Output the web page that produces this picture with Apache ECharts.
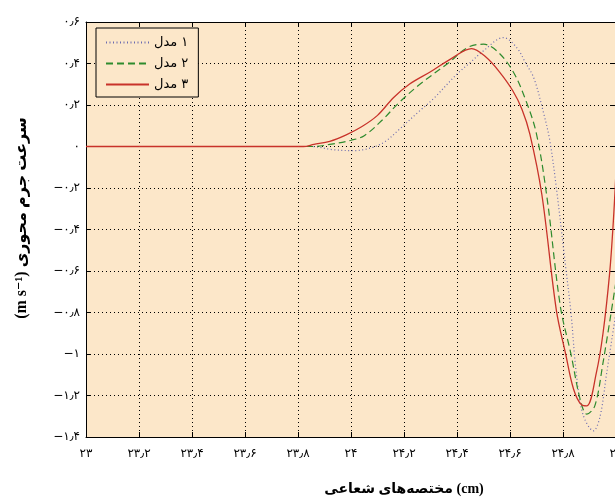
<!DOCTYPE html>
<html>
<head>
<meta charset="utf-8">
<script src="https://cdn.jsdelivr.net/npm/echarts@6/dist/echarts.min.js"></script>
<style>
html,body{margin:0;padding:0;background:#fff;}
#chart{width:615px;height:499px;}
</style>
</head>
<body>
<div id="chart"></div>
<script>
// Tick labels
const xTickValues = [23, 23.2, 23.4, 23.6, 23.8, 24, 24.2, 24.4, 24.6, 24.8, 25];
const xTickLabels = ['۲۳', '۲۳٫۲', '۲۳٫۴', '۲۳٫۶', '۲۳٫۸', '۲۴', '۲۴٫۲', '۲۴٫۴', '۲۴٫۶', '۲۴٫۸', '۲۵'];
const yTickValues = [-1.4, -1.2, -1, -0.8, -0.6, -0.4, -0.2, 0, 0.2, 0.4, 0.6];
const yTickLabels = ['−۱٫۴', '−۱٫۲', '−۱', '−۰٫۸', '−۰٫۶', '−۰٫۴', '−۰٫۲', '۰', '۰٫۲', '۰٫۴', '۰٫۶'];

// Series names
const seriesNames = ['مدل\u200E ۱', 'مدل\u200E ۲', 'مدل\u200E ۳'];

// Model 1 (dotted)
const model1X = [23, 23.5, 23.85, 23.93, 24.01, 24.08, 24.13, 24.18, 24.26, 24.31, 24.40, 24.45, 24.50, 24.575, 24.625, 24.66, 24.69, 24.725, 24.75, 24.775, 24.81, 24.83, 24.85, 24.875, 24.915, 24.94, 24.965, 25];
const model1Y = [0, 0, 0, -0.015, -0.02, -0.005, 0.025, 0.08, 0.173, 0.229, 0.349, 0.405, 0.461, 0.525, 0.477, 0.40, 0.33, 0.17, 0.03, -0.2, -0.58, -0.8, -1.09, -1.29, -1.37, -1.30, -1.09, -0.80];

// Model 2 (dashed)
const model2X = [23, 23.5, 23.86, 23.92, 24.0, 24.05, 24.12, 24.18, 24.26, 24.37, 24.44, 24.50, 24.55, 24.61, 24.66, 24.70, 24.74, 24.79, 24.83, 24.865, 24.89, 24.92, 24.95, 25];
const model2Y = [0, 0, 0, 0.01, 0.03, 0.052, 0.13, 0.21, 0.30, 0.405, 0.477, 0.493, 0.461, 0.365, 0.221, 0.06, -0.25, -0.77, -1.0, -1.22, -1.29, -1.25, -1.05, -0.65];

// Model 3 (solid)
const model3X = [23, 23.5, 23.82, 23.86, 23.92, 23.98, 24.04, 24.10, 24.16, 24.22, 24.30, 24.38, 24.455, 24.51, 24.56, 24.61, 24.645, 24.675, 24.72, 24.775, 24.81, 24.84, 24.87, 24.89, 24.926, 24.951, 24.976, 24.99, 25];
const model3Y = [0, 0, 0, 0.01, 0.025, 0.055, 0.095, 0.15, 0.235, 0.30, 0.36, 0.425, 0.472, 0.43, 0.36, 0.27, 0.18, 0.06, -0.23, -0.79, -1.0, -1.17, -1.245, -1.25, -1.09, -0.90, -0.61, -0.36, -0.12];

const xName = 'مختصه‌های شعاعی (cm)';
const yName = '(m s⁻¹) سرعت جرم محوری';

function pairs(xs, ys) { return xs.map((x, i) => [x, ys[i]]); }
function lookup(vals, labels, v) {
  for (let i = 0; i < vals.length; i++) if (Math.abs(vals[i] - v) < 1e-6) return labels[i];
  return '';
}

const plotBg = '#FCE7C9';
const tickFont = { fontFamily: 'DejaVu Sans', fontSize: 12, color: '#000' };

const chart = echarts.init(document.getElementById('chart'), null, { renderer: 'canvas' });
const xCommon = {
  type: 'value', min: 23, max: 25, interval: 0.2,
  axisLine: { show: true, onZero: false, lineStyle: { color: '#000', width: 1 } },
  axisTick: { show: true, inside: true, length: 5, lineStyle: { color: '#000' } }
};
const yCommon = {
  type: 'value', min: -1.4, max: 0.6, interval: 0.2,
  axisLine: { show: true, onZero: false, lineStyle: { color: '#000', width: 1 } },
  axisTick: { show: true, inside: true, length: 5, lineStyle: { color: '#000' } }
};
const dotted = { show: true, lineStyle: { color: '#000', width: 1, type: [1, 3] } };

chart.setOption({
  animation: false,
  backgroundColor: '#fff',
  grid: { left: 86, right: -1, top: 22, bottom: 62, containLabel: false, outerBoundsMode: 'none',
          show: true, backgroundColor: plotBg, borderWidth: 0 },
  xAxis: [
    Object.assign({}, xCommon, {
      position: 'bottom',
      splitLine: dotted,
      axisLabel: Object.assign({ margin: 11, hideOverlap: false, formatter: v => lookup(xTickValues, xTickLabels, v) }, tickFont)
    }),
    Object.assign({}, xCommon, {
      position: 'top', splitLine: { show: false }, axisLabel: { show: false }
    })
  ],
  yAxis: [
    Object.assign({}, yCommon, {
      position: 'left',
      splitLine: dotted,
      axisLabel: Object.assign({ margin: 6, formatter: v => lookup(yTickValues, yTickLabels, v) }, tickFont)
    }),
    Object.assign({}, yCommon, {
      position: 'right', splitLine: { show: false }, axisLabel: { show: false }
    })
  ],
  legend: {
    orient: 'vertical', left: 96, top: 28,
    backgroundColor: plotBg, borderColor: '#000', borderWidth: 1, borderRadius: 0,
    padding: [8, 10, 6, 9], itemWidth: 43, itemHeight: 14, itemGap: 8,
    itemStyle: { opacity: 0 },
    textStyle: { fontFamily: 'DejaVu Sans', fontSize: 13, color: '#000' },
    data: seriesNames
  },
  series: [
    { name: seriesNames[0], type: 'line', data: pairs(model1X, model1Y), symbol: 'none',
      smooth: 0.35, lineStyle: { color: '#6B6BB0', width: 1.2, type: [1, 2.5] }, itemStyle: { color: '#6B6BB0' } },
    { name: seriesNames[1], type: 'line', data: pairs(model2X, model2Y), symbol: 'none',
      smooth: 0.35, lineStyle: { color: '#2E8B2E', width: 1.2, type: [7, 4] }, itemStyle: { color: '#2E8B2E' } },
    { name: seriesNames[2], type: 'line', data: pairs(model3X, model3Y), symbol: 'none',
      smooth: 0.35, lineStyle: { color: '#C8322A', width: 1.3 }, itemStyle: { color: '#C8322A' } }
  ],
  graphic: [
    { type: 'text', x: 404, y: 489, style: { text: xName, font: 'bold 14px "Liberation Serif", "DejaVu Sans"', fill: '#000', align: 'center', verticalAlign: 'middle' } },
    { type: 'text', x: 22, y: 218, rotation: Math.PI / 2, style: { text: yName, font: 'bold 16px "Liberation Serif", "DejaVu Sans"', fill: '#000', align: 'center', verticalAlign: 'middle' } }
  ]
});
</script>
</body>
</html>
